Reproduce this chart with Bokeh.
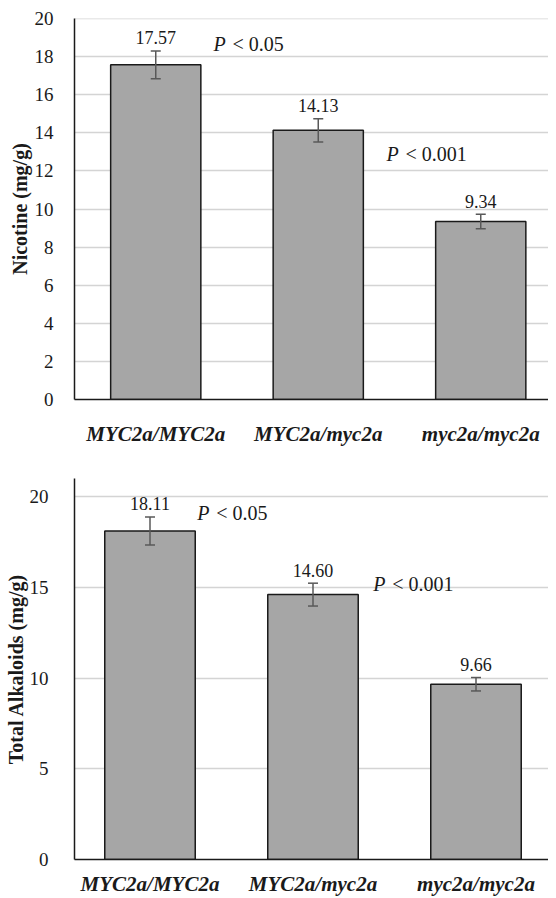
from bokeh.plotting import figure
from bokeh.layouts import column
from bokeh.models import (ColumnDataSource, Range1d, FixedTicker, Whisker, TeeHead, Label)
from bokeh.core.properties import value
from bokeh.embed import file_html
from bokeh.resources import INLINE

# ---- data ----
categories = ["MYC2a/MYC2a", "MYC2a/myc2a", "myc2a/myc2a"]
nicotine = [17.57, 14.13, 9.34]
nicotine_err = [0.73, 0.61, 0.38]
alkaloids = [18.11, 14.60, 9.66]
alkaloids_err = [0.77, 0.63, 0.37]
nicotine_ticks = [0, 2, 4, 6, 8, 10, 12, 14, 16, 18, 20]
alkaloid_ticks = [0, 5, 10, 15, 20]
p_texts = ["< 0.05", "< 0.001"]

FONT = "'Liberation Serif'"
BAR_FILL = "#A6A6A6"
GRID = "#D4D4D4"
FIG_W = 548
FRAME_LEFT = 74


def make_chart(vals, errs, ticks, ymax, ylabel, px_per_cat, cat_left, border_top,
               border_bottom, height, tick_standoff, title_standoff, label_standoff,
               p_pos):
    xs = list(range(1, len(categories) + 1))
    src = ColumnDataSource(dict(
        x=xs, top=vals,
        upper=[v + e for v, e in zip(vals, errs)],
        lower=[v - e for v, e in zip(vals, errs)],
        txt=["%.2f" % v for v in vals],
    ))
    x_start = 0.5 + (FRAME_LEFT - cat_left) / px_per_cat
    x_end = 0.5 + (FIG_W - cat_left) / px_per_cat
    p = figure(width=FIG_W, height=height, output_backend="svg", toolbar_location=None,
               x_range=Range1d(x_start, x_end), y_range=Range1d(0, ymax),
               min_border_left=FRAME_LEFT, min_border_right=0,
               min_border_top=border_top, min_border_bottom=border_bottom)
    p.outline_line_color = None
    p.background_fill_color = "white"
    p.border_fill_color = "white"

    # horizontal gridlines
    p.hspan(y=[t for t in ticks if t > 0], line_color=GRID, line_width=1.5)

    p.vbar(x="x", top="top", width=0.555, source=src, fill_color=BAR_FILL,
           line_color="#1a1a1a", line_width=1.5)
    w = Whisker(base="x", upper="upper", lower="lower", source=src,
                line_color="#595959", line_width=1.5, level="overlay",
                upper_head=TeeHead(size=10, line_color="#595959", line_width=1.5),
                lower_head=TeeHead(size=10, line_color="#595959", line_width=1.5))
    p.add_layout(w)
    p.text(x="x", y="upper", text="txt", source=src, text_font=value(FONT),
           text_font_size="18px", text_align="center", text_baseline="middle",
           y_offset=-13, text_color="#1a1a1a")

    for (px, py), t in zip(p_pos, p_texts):
        p.add_layout(Label(x=px, y=py, text="P", text_font=FONT, text_font_style="italic",
                           text_font_size="20px", text_baseline="middle", text_color="#1a1a1a"))
        p.add_layout(Label(x=px, y=py, x_offset=19, text=t, text_font=FONT,
                           text_font_size="20px", text_baseline="middle", text_color="#1a1a1a"))

    # x axis
    xa = p.xaxis[0]
    xa.ticker = FixedTicker(ticks=xs)
    xa.major_label_overrides = {i: c for i, c in zip(xs, categories)}
    xa.major_label_text_font = FONT
    xa.major_label_text_font_style = "bold italic"
    xa.major_label_text_font_size = "21px"
    xa.major_label_text_color = "#1a1a1a"
    xa.major_label_standoff = label_standoff
    xa.axis_line_color = "#1a1a1a"
    xa.axis_line_width = 1.5
    xa.major_tick_line_color = None
    xa.minor_tick_line_color = None

    # y axis
    ya = p.yaxis[0]
    ya.ticker = FixedTicker(ticks=ticks)
    ya.axis_label = ylabel
    ya.axis_label_text_font = FONT
    ya.axis_label_text_font_style = "bold"
    ya.axis_label_text_font_size = "20px"
    ya.axis_label_text_color = "#1a1a1a"
    ya.axis_label_standoff = title_standoff
    ya.major_label_text_font = FONT
    ya.major_label_text_font_size = "19px"
    ya.major_label_text_color = "#1a1a1a"
    ya.major_label_standoff = tick_standoff
    ya.axis_line_color = "#1a1a1a"
    ya.axis_line_width = 1.5
    ya.major_tick_line_color = None
    ya.minor_tick_line_color = None

    p.xgrid.grid_line_color = None
    p.ygrid.grid_line_color = None
    return p


top = make_chart(nicotine, nicotine_err, nicotine_ticks, 20, "Nicotine (mg/g)",
                 162.5, 74, 18, 48, 448, 15, 1, 16,
                 [(1.355, 18.65), (2.42, 12.9)])
bottom = make_chart(alkaloids, alkaloids_err, alkaloid_ticks, 21, "Total Alkaloids (mg/g)",
                    163.0, 68, 30, 38, 450, 20, 0, 6,
                    [(1.29, 19.1), (2.37, 15.2)])

layout = column(top, bottom, spacing=0)
open("out.html", "w").write(file_html(layout, INLINE))
